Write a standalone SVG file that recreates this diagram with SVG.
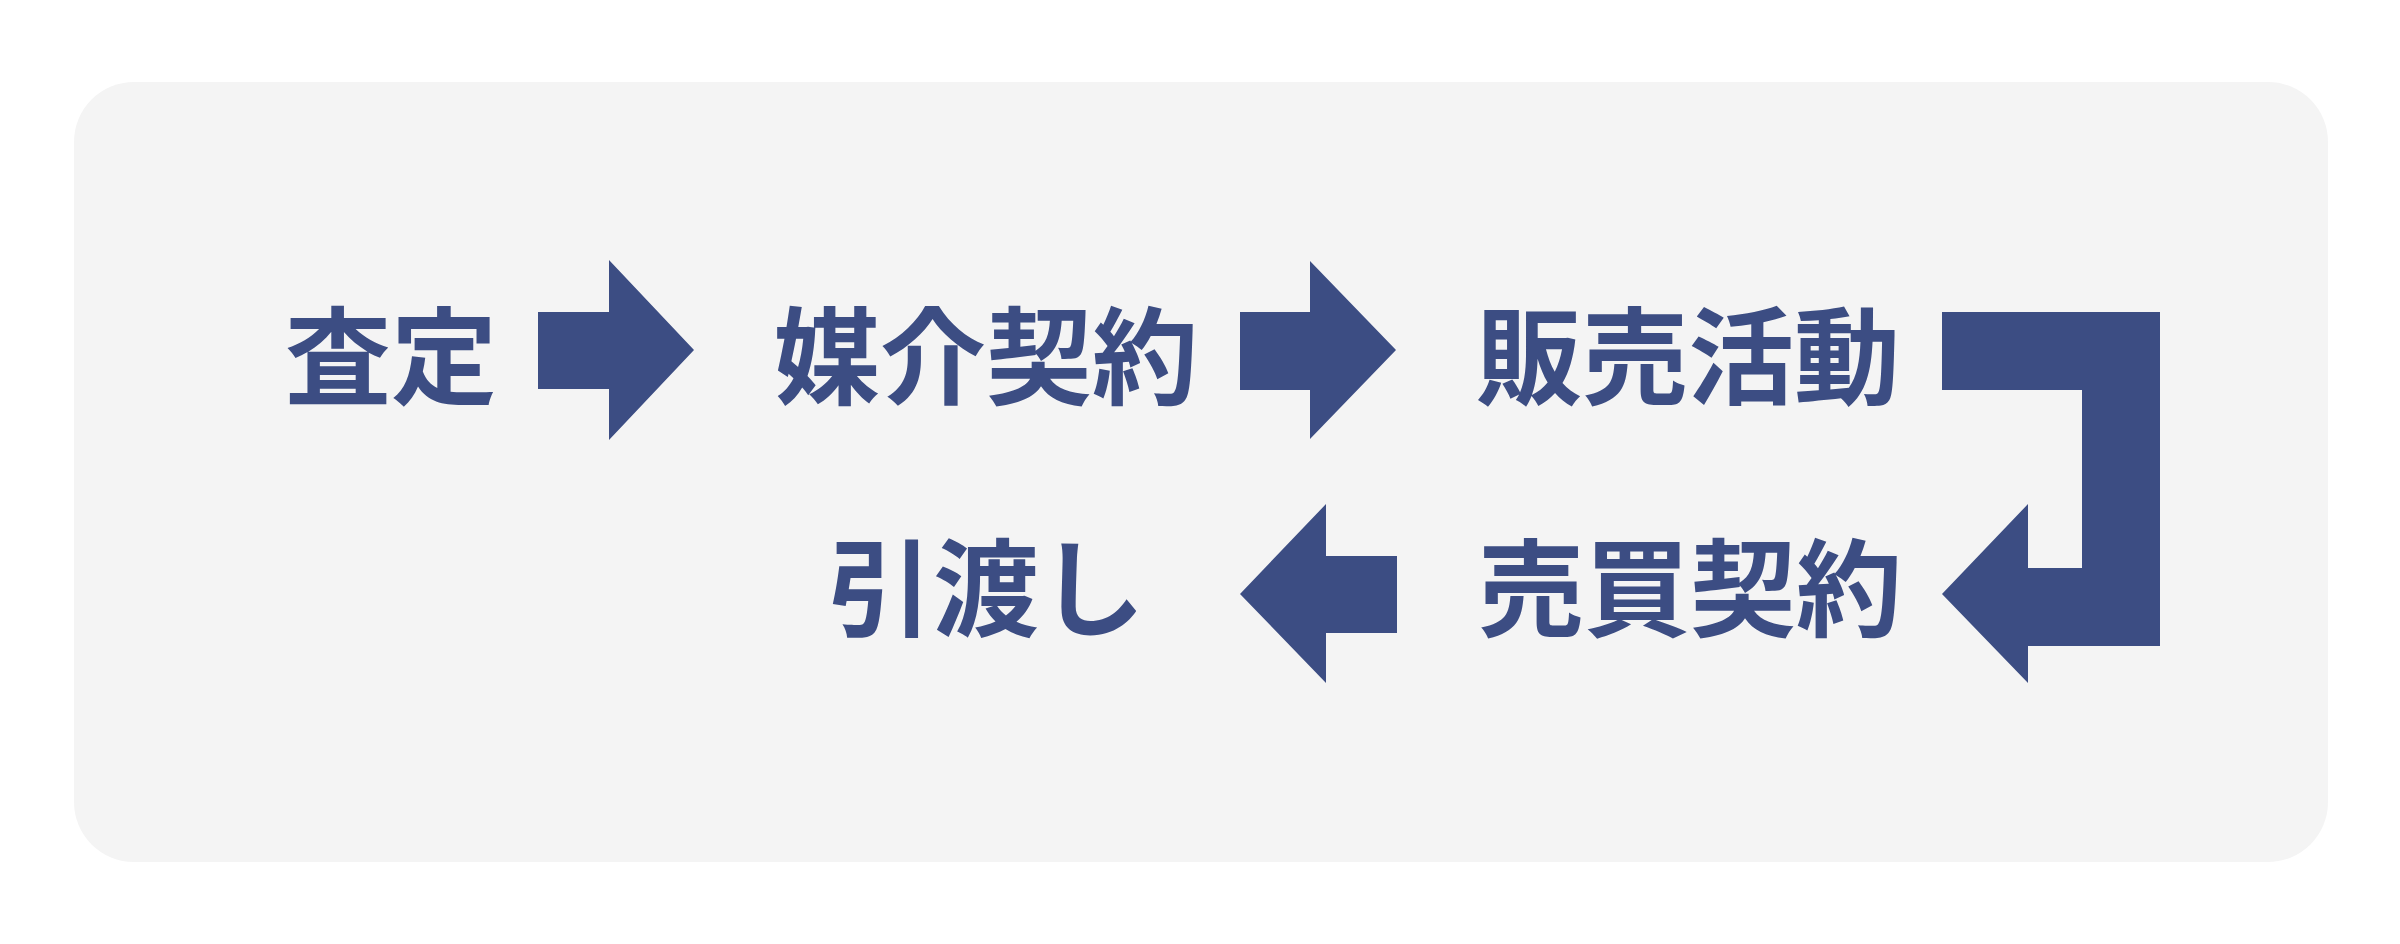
<svg xmlns="http://www.w3.org/2000/svg" width="2400" height="944" viewBox="0 0 2400 944">
<style>
.lbl{font-family:"Noto Sans CJK JP","Noto Sans CJK SC",sans-serif;font-weight:700;font-size:106px;fill:#3C4D83;text-anchor:middle}
.arr{fill:#3C4D83}
</style>
<rect width="2400" height="944" fill="#FFFFFF"/>
<rect id="panel" x="74" y="82" width="2254" height="780" rx="60" ry="60" fill="#F4F4F4"/>
<g id="n1"><text class="lbl" x="391" y="396">査定</text></g>
<g id="n2"><text class="lbl" x="986" y="396">媒介契約</text></g>
<g id="n3"><text class="lbl" x="1688" y="396">販売活動</text></g>
<g id="n4"><text class="lbl" x="1690" y="628">売買契約</text></g>
<g id="n5"><text class="lbl" x="986" y="628">引渡し</text></g>
<g id="connectors">
<polygon class="arr" points="538,312 609,312 609,260 694,350 609,440 609,389 538,389"/>
<polygon class="arr" points="1240,312 1310,312 1310,261 1396,350 1310,439 1310,390 1240,390"/>
<polygon class="arr" points="1942,312 2160,312 2160,646 2028,646 2028,683 1942,594 2028,504 2028,568 2082,568 2082,390 1942,390"/>
<polygon class="arr" points="1397,556 1326,556 1326,504 1240,594 1326,683 1326,633 1397,633"/>
</g>
</svg>
